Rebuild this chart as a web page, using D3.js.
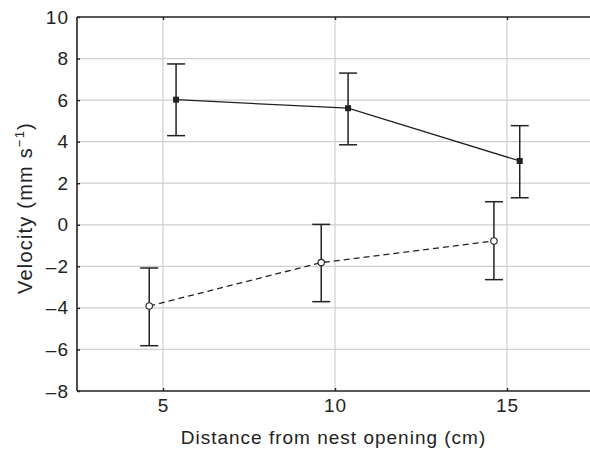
<!DOCTYPE html>
<html>
<head>
<meta charset="utf-8">
<script src="https://cdn.jsdelivr.net/npm/d3@7"></script>
<style>
  body { margin: 0; background: #fff; }
  text { font-family: "Liberation Sans", Arial, sans-serif; fill: #222; }
</style>
</head>
<body>
<svg id="chart" width="590" height="449"></svg>
<script>
// distance (cm) for each series, slightly offset
var distFilled = [5.38, 10.38, 15.37];
var velFilled = [6.02, 5.61, 3.07];
var errHiFilled = [7.74, 7.30, 4.77];
var errLoFilled = [4.29, 3.85, 1.30];

var distOpen = [4.60, 9.60, 14.62];
var velOpen = [-3.91, -1.82, -0.78];
var errHiOpen = [-2.08, 0.02, 1.11];
var errLoOpen = [-5.82, -3.70, -2.64];

var xTicks = [5, 10, 15];
var yTicks = [-8, -6, -4, -2, 0, 2, 4, 6, 8, 10];

var svg = d3.select("#chart");
var padLeft = 77, padTop = 17, padBottom = 391;

var x = d3.scaleLinear().domain([2.5, 17.5]).range([padLeft, padLeft + 15 * 34.4]);
var y = d3.scaleLinear().domain([-8, 10]).range([padBottom, padTop]);
var fmt = function(d) { return d < 0 ? "\u2013" + Math.abs(d) : d; };

// grid
svg.append("g").selectAll("line").data(yTicks.slice(1, -1)).enter().append("line")
    .attr("x1", padLeft).attr("x2", 590)
    .attr("y1", function(d) { return y(d); }).attr("y2", function(d) { return y(d); })
    .attr("stroke", "#cfcfcf").attr("stroke-width", 1.2);
svg.append("g").selectAll("line").data(xTicks).enter().append("line")
    .attr("x1", function(d) { return x(d); }).attr("x2", function(d) { return x(d); })
    .attr("y1", padTop).attr("y2", padBottom)
    .attr("stroke", "#cfcfcf").attr("stroke-width", 1.2);

// axes
var xAxis = d3.axisBottom(x).tickValues(xTicks).tickSize(-3).tickPadding(8).tickFormat(fmt);
var yAxis = d3.axisLeft(y).tickValues(yTicks).tickSize(-3).tickPadding(8).tickFormat(fmt);

var gx = svg.append("g").attr("transform", "translate(0," + padBottom + ")").call(xAxis);
var gy = svg.append("g").attr("transform", "translate(" + padLeft + ",0)").call(yAxis);
var gxTop = svg.append("g").attr("transform", "translate(0," + padTop + ")")
    .call(d3.axisTop(x).tickValues(xTicks).tickSize(-3).tickFormat(""));
[gx, gy, gxTop].forEach(function(g) {
    g.select(".domain").attr("stroke", "#222").attr("stroke-width", 1.6);
    g.selectAll(".tick line").attr("stroke", "#222").attr("stroke-width", 1.4);
    g.selectAll(".tick text").style("font-size", "19px").style("letter-spacing", "1px").attr("fill", "#222")
        .style("font-family", "Liberation Sans, Arial, sans-serif");
});
gy.select(".domain").attr("d", "M0," + padBottom + "V" + padTop);
gx.select(".domain").attr("d", "M" + padLeft + ",0H590");
gxTop.select(".domain").attr("d", "M" + padLeft + ",0H590");

// axis labels
svg.append("text")
    .attr("x", (padLeft + 590) / 2).attr("y", 444)
    .attr("text-anchor", "middle").style("font-size", "19px").style("letter-spacing", "1px")
    .text("Distance from nest opening (cm)");

var yl = svg.append("text")
    .attr("transform", "translate(32," + ((padTop + padBottom) / 2 + 4) + ") rotate(-90)")
    .attr("text-anchor", "middle").style("font-size", "20px").style("letter-spacing", "1.2px");
yl.append("tspan").text("Velocity (mm s");
yl.append("tspan").attr("dy", -8).style("font-size", "13px").text("\u22121");
yl.append("tspan").attr("dy", 8).text(")");

function drawSeries(dist, vel, hi, lo, dashed, filled) {
    var pts = dist.map(function(d, i) { return { x: d, v: vel[i], hi: hi[i], lo: lo[i] }; });
    var line = d3.line().x(function(d) { return x(d.x); }).y(function(d) { return y(d.v); });
    svg.append("path").datum(pts).attr("d", line)
        .attr("fill", "none").attr("stroke", "#222").attr("stroke-width", 1.3)
        .attr("stroke-dasharray", dashed ? "6,4" : null);
    var eb = svg.append("g").selectAll("g").data(pts).enter().append("g");
    eb.append("line")
        .attr("x1", function(d) { return x(d.x); }).attr("x2", function(d) { return x(d.x); })
        .attr("y1", function(d) { return y(d.hi); }).attr("y2", function(d) { return y(d.lo); })
        .attr("stroke", "#222").attr("stroke-width", 1.5);
    ["hi", "lo"].forEach(function(k) {
        eb.append("line")
            .attr("x1", function(d) { return x(d.x) - 9; }).attr("x2", function(d) { return x(d.x) + 9; })
            .attr("y1", function(d) { return y(d[k]); }).attr("y2", function(d) { return y(d[k]); })
            .attr("stroke", "#222").attr("stroke-width", 1.5);
    });
    if (filled) {
        eb.append("rect")
            .attr("x", function(d) { return x(d.x) - 3; }).attr("y", function(d) { return y(d.v) - 3; })
            .attr("width", 6).attr("height", 6).attr("fill", "#222");
    } else {
        eb.append("circle")
            .attr("cx", function(d) { return x(d.x); }).attr("cy", function(d) { return y(d.v); })
            .attr("r", 3.2).attr("fill", "#fff").attr("stroke", "#222").attr("stroke-width", 1.1);
    }
}

drawSeries(distFilled, velFilled, errHiFilled, errLoFilled, false, true);
drawSeries(distOpen, velOpen, errHiOpen, errLoOpen, true, false);
</script>
</body>
</html>
